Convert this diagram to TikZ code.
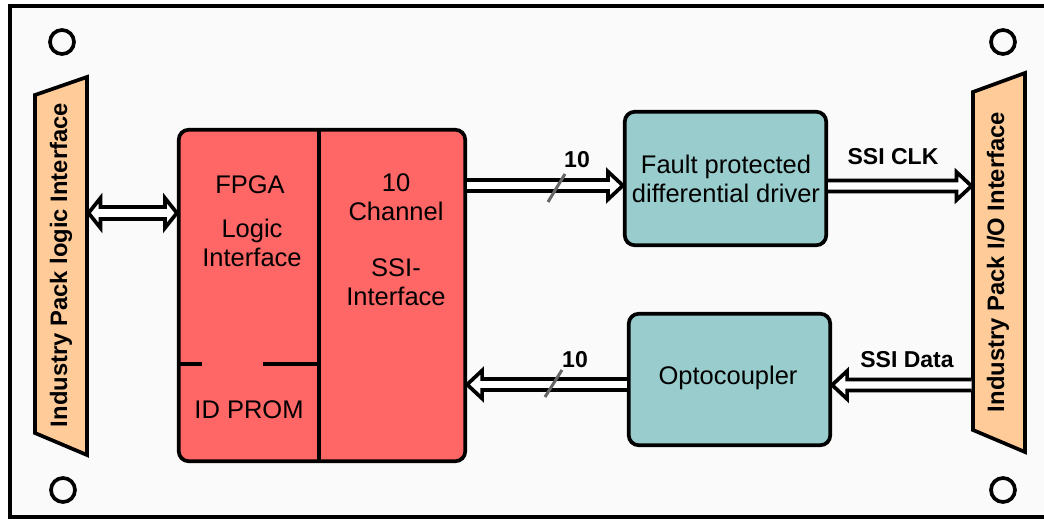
\documentclass[tikz,border=0pt]{standalone}
\usepackage{fontspec}
\setmainfont{Liberation Sans}
\usetikzlibrary{calc}
\definecolor{bgc}{HTML}{FAFAFA}
\definecolor{redc}{HTML}{FF6666}
\definecolor{tealc}{HTML}{99CCCC}
\definecolor{peach}{HTML}{FFCC99}
\definecolor{slashc}{HTML}{666666}
\tikzset{
  board/.style={draw, line width=4pt, fill=bgc},
  hole/.style={draw, line width=3.7pt},
  port/.style={draw, line width=3.7pt, fill=peach, line join=miter},
  blk/.style={draw, line width=3.7pt, rounded corners=10pt, inner sep=0pt},
  divline/.style={line width=3.7pt},
  txt/.style={font=\fontsize{25.5}{29}\selectfont, align=center, inner sep=0pt},
  lbl/.style={font=\bfseries\fontsize{23}{26}\selectfont, inner sep=0pt},
  vlbl/.style={font=\bfseries\fontsize{23.8}{26}\selectfont, inner sep=0pt, rotate=90},
  harr/.style={draw, line width=3.7pt, fill=white, line join=miter},
  slashline/.style={draw=slashc, line width=3pt}
}
% single hollow arrow: #1 start, #2 tip, #3 half gap, #4 signed head length
\newcommand\hollowarrow[4]{%
  \path[harr] let \p1=(#1), \p2=(#2) in
    ({\x1},{\y1+#3}) -- ({\x2-(#4)},{\y1+#3}) -- ({\x2-(#4)},{\y1+14pt}) -- ({\x2},{\y1})
    -- ({\x2-(#4)},{\y1-14pt}) -- ({\x2-(#4)},{\y1-#3}) -- ({\x1},{\y1-#3});
}
% double-headed hollow arrow from left tip #1 to right tip #2
\newcommand\hollowboth[3]{%
  \path[harr] let \p1=(#1), \p2=(#2) in
    ({\x1+12pt},{\y1+#3}) -- ({\x2-12pt},{\y1+#3}) -- ({\x2-12pt},{\y1+15pt}) -- ({\x2},{\y1})
    -- ({\x2-12pt},{\y1-15pt}) -- ({\x2-12pt},{\y1-#3}) -- ({\x1+12pt},{\y1-#3})
    -- ({\x1+12pt},{\y1-15pt}) -- ({\x1},{\y1}) -- ({\x1+12pt},{\y1+15pt}) -- cycle;
}
\begin{document}
\begin{tikzpicture}[x=1pt,y=-1pt]
\useasboundingbox (0,0) rectangle (1044,519);
\clip (0,0) rectangle (1044,519);
\fill[white] (0,0) rectangle (1044,519);
% board
\path[board] (10,6) rectangle (1070,517);
% mounting holes
\draw[hole] (62,42) circle (12);
\draw[hole] (63,490) circle (12);
\draw[hole] (1003,42) circle (12);
\draw[hole] (1003,490) circle (12);
% ports
\path[port] (35,95) -- (87,77) -- (87,455) -- (35,433) -- cycle;
\path[port] (973,92) -- (1025,73) -- (1025,452) -- (973,430) -- cycle;
\coordinate (lpe) at (88.5,0);
\coordinate (rpw) at (971.5,0);
\node[vlbl] (lptxt) at (61,265) {Industry Pack logic Interface};
\node[vlbl] (rptxt) at (998,262) {Industry Pack I/O Interface};
% FPGA block
\node[blk, fill=redc, minimum width=286.5pt, minimum height=331.5pt] (fpga) at (322,295.5) {};
\coordinate (dv) at (319,0);
\draw[divline] (fpga.north -| dv) -- (fpga.south -| dv);
\coordinate (hl) at (0,364);
\coordinate (g1) at (202,0);
\coordinate (g2) at (263,0);
\draw[divline] (fpga.west |- hl) -- (g1 |- hl);
\draw[divline] (g2 |- hl) -- (dv |- hl);
\node[txt] (fpgat) at (250,185) {FPGA};
\node[txt] (logict) at (252,242.5) {Logic\\Interface};
\node[txt] (chant) at (396,197) {10\\Channel};
\node[txt] (ssit) at (396,282.5) {SSI-\\Interface};
\node[txt] (promt) at (249,410) {ID PROM};
% driver and optocoupler
\node[blk, fill=tealc, minimum width=201.5pt, minimum height=133.5pt] (drv) at (725.5,178.5) {};
\node[txt] (drvt) at (726,179) {Fault protected\\differential driver};
\node[blk, fill=tealc, minimum width=201.5pt, minimum height=131.5pt] (opto) at (729.5,379.5) {};
\node[txt] (optot) at (728,378) {Optocoupler};
% connectors
\coordinate (y0) at (0,213);
\coordinate (y1) at (0,185.5);
\coordinate (y2) at (0,384.5);
\coordinate (y3) at (0,186);
\coordinate (y4) at (0,385);
\hollowboth{lpe |- y0}{fpga.west |- y0}{6pt}
\hollowarrow{fpga.east |- y1}{drv.west |- y1}{5.5pt}{15pt}
\hollowarrow{opto.west |- y2}{fpga.east |- y2}{5.5pt}{-15pt}
\hollowarrow{drv.east |- y3}{rpw |- y3}{5.5pt}{15pt}
\hollowarrow{rpw |- y4}{opto.east |- y4}{5.5pt}{-15pt}
% bus slashes and labels
\coordinate (s1a) at (548,202);
\coordinate (s1b) at (565,174);
\coordinate (s2a) at (545,397);
\coordinate (s2b) at (562,370);
\draw[slashline] (s1a) -- (s1b);
\draw[slashline] (s2a) -- (s2b);
\node[lbl] (n1) at (577,160) {10};
\node[lbl] (n2) at (575,360) {10};
\node[lbl] (clk) at (893,157) {SSI CLK};
\node[lbl] (dat) at (907,360) {SSI Data};
\end{tikzpicture}
\end{document}
